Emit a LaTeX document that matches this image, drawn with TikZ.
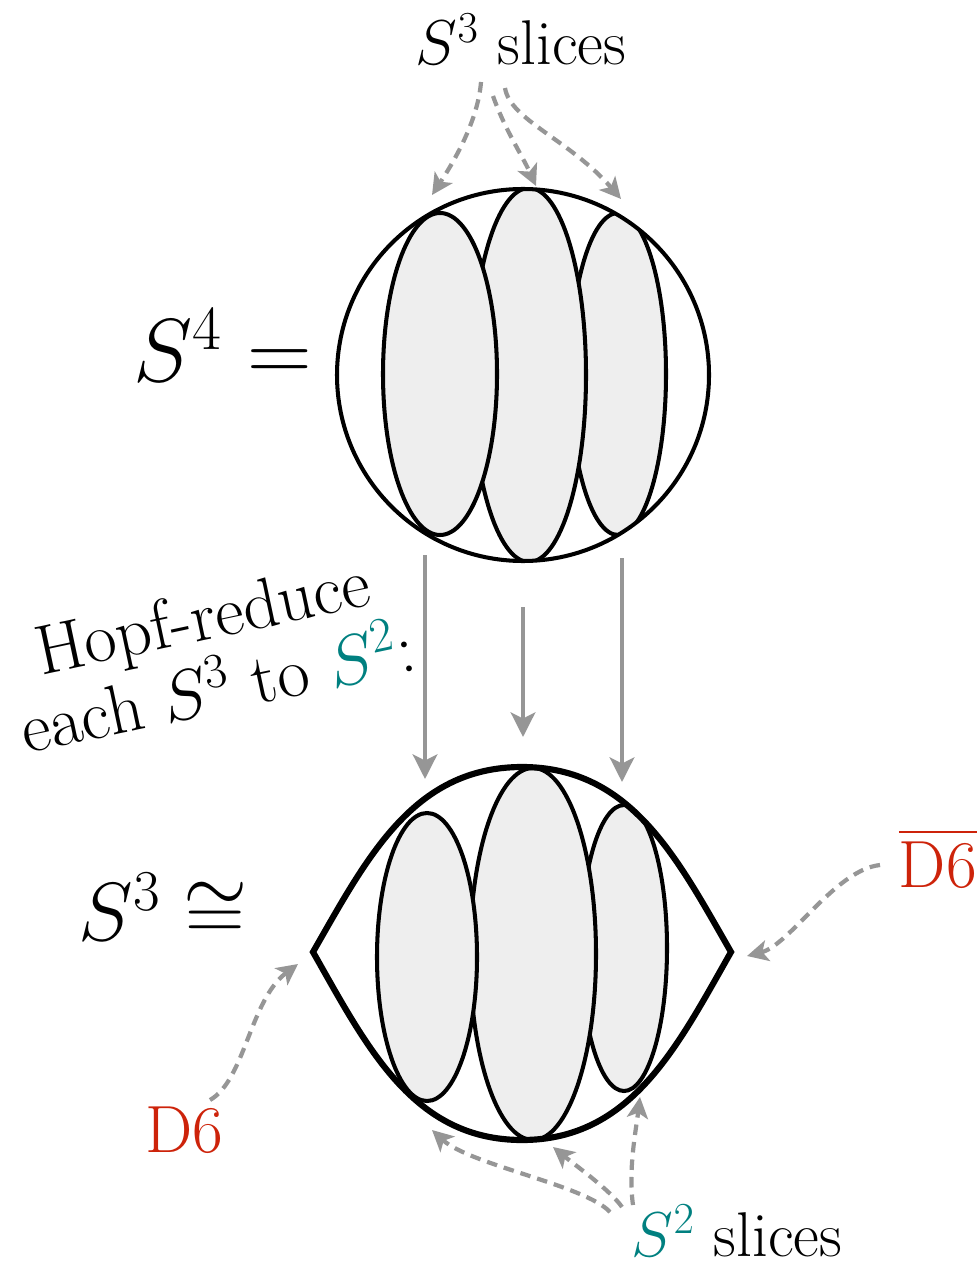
\RequirePackage{fix-cm}
\documentclass[tikz,border=0pt]{standalone}
\usepackage{amsmath}
\usepackage{amsfonts, amssymb}
\usepackage{xcolor}
\usepackage{tikz}
\usetikzlibrary{arrows.meta, positioning, calc}
\definecolor{dsixred}{RGB}{205,35,10}
\definecolor{hopfteal}{RGB}{0,128,128}
\definecolor{slicefill}{RGB}{238,238,238}
\definecolor{pointgray}{RGB}{150,150,150}

\begin{document}
\begin{tikzpicture}[x=0.02cm, y=-0.02cm, >=Stealth,
    slice/.style={fill=slicefill, draw=black, line width=2.3pt},
    pointer/.style={pointgray, line width=2.4pt, dash pattern=on 6pt off 4pt, -{Stealth[length=12pt, width=12pt, inset=3pt]}},
    reduce/.style={pointgray, line width=2.3pt, -{Stealth[length=14pt, width=14pt, inset=3.5pt]}},
    slicelabel/.style={font=\fontsize{36}{42}\selectfont},
    branelabel/.style={text=dsixred, font=\fontsize{38}{44}\selectfont}]
      \useasboundingbox (0,0) rectangle (978,1266);

      % Upper picture: the four-sphere cut into three-sphere slices
      \begin{scope}
        \clip (523,375) circle [radius=186];
        \filldraw[slice] (618,374) ellipse [x radius=48, y radius=161];
        \filldraw[slice] (529,375) ellipse [x radius=57, y radius=187];
        \filldraw[slice] (440,374) ellipse [x radius=57, y radius=161];
      \end{scope}
      \draw[line width=2.3pt] (523,375) circle [radius=186];
      \node[anchor=base east, inner sep=0pt, font=\fontsize{51}{60}\selectfont] (sfour) at (312,382) {$S^4 =$};

      % Lower picture: the lens with its two-sphere slices
      \begin{scope}
        \clip (313,952) .. controls (367,858) and (413,767) .. (522,767)
          .. controls (631,767) and (677,858) .. (731,952)
          .. controls (677,1047) and (631,1140) .. (522,1140)
          .. controls (413,1140) and (367,1047) .. cycle;
        \filldraw[slice] (624,948) ellipse [x radius=43, y radius=143];
        \filldraw[slice] (533,954) ellipse [x radius=63, y radius=186];
        \filldraw[slice] (427,957) ellipse [x radius=50, y radius=144];
      \end{scope}
      \draw[line width=3.5pt, line join=miter]
        (313,952) .. controls (367,858) and (413,767) .. (522,767)
        .. controls (631,767) and (677,858) .. (731,952)
        .. controls (677,1047) and (631,1140) .. (522,1140)
        .. controls (413,1140) and (367,1047) .. cycle;
      \node[anchor=base east, inner sep=0pt, font=\fontsize{47}{56}\selectfont] (sthree) at (248,940) {$S^3 \cong$};

      % Hopf reduction arrows
      \foreach \x/\ya/\yb in {425/555/779, 523/607/737, 622/558/782} {
        \draw[reduce] (\x,\ya) -- (\x,\yb);
      }
      \node[rotate=12, align=center, font=\fontsize{40}{42}\selectfont] (hopf) at (210,652)
        {Hopf-reduce\\ each $S^3$ to \textcolor{hopfteal}{$S^2$}:};

      % Slice labels
      \node[slicelabel, anchor=base] (topslices) at (521,65) {$S^3$ slices};
      \coordinate (topa) at (432,195);
      \coordinate (topb) at (536,186);
      \coordinate (topc) at (621,199);
      \draw[pointer] (481,82) .. controls (478,120) and (455,160) .. (topa);
      \draw[pointer] (493,96) .. controls (505,130) and (522,155) .. (topb);
      \draw[pointer] (505,88) .. controls (510,120) and (570,140) .. (topc);

      \node[slicelabel, anchor=base] (botslices) at (737,1256) {\textcolor{hopfteal}{$S^2$} slices};
      \coordinate (bota) at (432,1130);
      \coordinate (botb) at (553,1147);
      \coordinate (botc) at (640,1097);
      \draw[pointer] (610,1212) .. controls (585,1185) and (470,1165) .. (bota);
      \draw[pointer] (622,1207) .. controls (610,1190) and (575,1165) .. (botb);
      \draw[pointer] (633,1205) .. controls (628,1170) and (636,1130) .. (botc);

      % Brane labels
      \node[branelabel, anchor=base] (dsix) at (184,1152) {D6};
      \coordinate (leftcorner) at (298,964);
      \draw[pointer] (210,1100) .. controls (245,1080) and (250,1000) .. (leftcorner);
      \node[branelabel, anchor=base east, inner sep=0pt] (dsixbar) at (977,887) {$\overline{\text{D6}}$};
      \coordinate (rightcorner) at (747,956);
      \draw[pointer] (880,865) .. controls (835,870) and (790,945) .. (rightcorner);
    \end{tikzpicture}
\end{document}
